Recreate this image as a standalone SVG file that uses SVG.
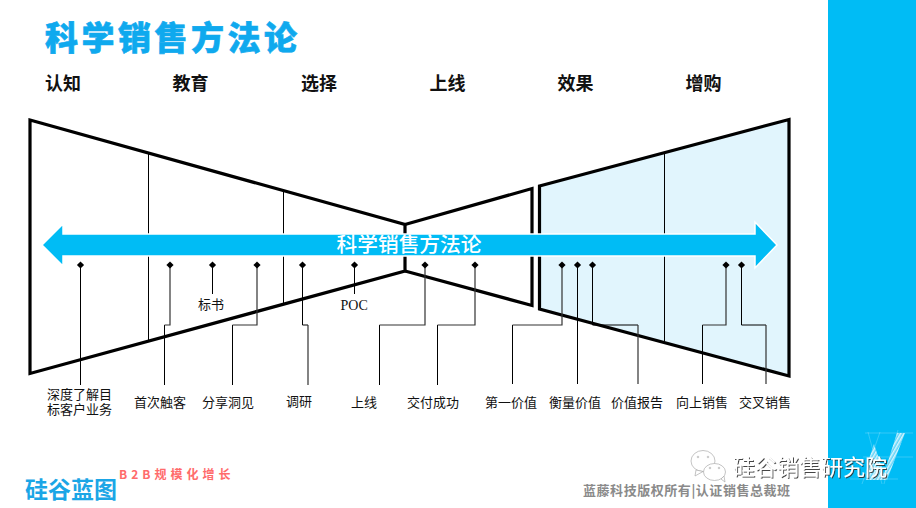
<svg xmlns="http://www.w3.org/2000/svg" width="916" height="508" viewBox="0 0 916 508">
<style>
text{font-family:"Noto Sans CJK SC","Noto Sans",sans-serif}
.hd{font-size:18px;font-weight:700;fill:#111}
.lb{font-size:13px;fill:#111}
.sh{stroke:#000;stroke-width:3.200;stroke-linejoin:miter}
.dv{fill:none;stroke:#000;stroke-width:1}
.cn{fill:none;stroke:#000;stroke-width:1}
.cg{fill:none;stroke:#333;stroke-width:1.200}
.gl{fill:none;stroke:#fff;stroke-width:.7;opacity:.3}
</style>
<defs>
<path id="d" d="M0-3.600L3.600 0L0 3.600L-3.600 0Z" fill="#000"/>
<pattern id="h" width="3" height="3" patternUnits="userSpaceOnUse" patternTransform="rotate(30)"><rect width="3" height="3" fill="#5fd3f8"/><rect width="1.500" height="3" fill="#fff" opacity=".75"/></pattern>
<filter id="s" x="-5%" y="-20%" width="110%" height="140%"><feDropShadow dx="1" dy="1" stdDeviation=".4" flood-color="#333" flood-opacity=".9"/></filter>
</defs>
<rect width="916" height="508" fill="#fff"/>
<rect id="side-panel" x="828" y="0" width="88" height="508" fill="#00bcf5"/>
<text id="title" x="45" y="50" font-size="33" font-weight="900" letter-spacing="3.500" fill="#0fa9ee" stroke="#0fa9ee" stroke-width=".6">科学销售方法论</text>
<g id="stages">
<text class="hd" x="45" y="90">认知</text>
<text class="hd" x="172.500" y="90">教育</text>
<text class="hd" x="301" y="90">选择</text>
<text class="hd" x="429.500" y="90">上线</text>
<text class="hd" x="557.500" y="90">效果</text>
<text class="hd" x="685.500" y="90">增购</text>
</g>
<g id="funnel-left"><path class="sh" d="M30 120L405 224.500V271L30 373.500Z" fill="#fff"/></g>
<g id="funnel-middle"><path class="sh" d="M405 224.500L532 188.500V305.500L405 271" fill="none"/></g>
<g id="funnel-right"><path class="sh" d="M539.500 186L789 119.500V376L539.500 309Z" fill="#e1f5fd"/></g>
<g id="dividers">
<path class="dv" d="M148.500 153V340M283.500 191V303M405.500 225V270M664.500 152V341"/>
</g>
<g id="method-arrow">
<path d="M42 245L63 224V234H755V222L777 245L755 268V256H63V266Z" fill="#00bcf5" stroke="#fff" stroke-width="1.500"/>
<text x="409" y="251.500" font-size="20.700" font-weight="500" fill="#fff" text-anchor="middle">科学销售方法论</text>
</g>
<g id="connectors">
<path class="cn" d="M80.500 265V385M164.500 325V385M212.500 265V294M232.500 325V385M302.500 265V325H308M354.500 265V294M379.500 325V385M437.500 325V385M512.500 325V384M577.500 265V384M592.500 265V325H638M702.500 325V384M741.500 265V325H766"/>
<path class="cg" d="M170 265V325H164.500M257 265V325H232.500M308 325V385M425 265V325H379.500M475 265V325H437.500M562 265V325H512.500M638 325V384M726 265V325H702.500M766 325V384"/>
<use href="#d" x="80.500" y="265"/><use href="#d" x="170" y="265"/><use href="#d" x="212.500" y="265"/><use href="#d" x="257" y="265"/><use href="#d" x="302.500" y="265"/><use href="#d" x="354.500" y="265"/><use href="#d" x="425" y="265"/><use href="#d" x="475" y="265"/><use href="#d" x="562" y="265"/><use href="#d" x="577.500" y="265"/><use href="#d" x="592.500" y="265"/><use href="#d" x="726" y="265"/><use href="#d" x="741.500" y="265"/>
</g>
<g id="node-biaoshu"><text class="lb" x="198" y="308.500">标书</text></g>
<g id="node-poc"><text x="340.500" y="309.500" font-size="14" fill="#111" style="font-family:'Liberation Serif',serif">POC</text></g>
<g id="node-shendu"><text class="lb"><tspan x="47" y="398.500">深度了解目</tspan><tspan x="47" y="414">标客户业务</tspan></text></g>
<g id="node-shouci"><text class="lb" x="134" y="407">首次触客</text></g>
<g id="node-fenxiang"><text class="lb" x="202" y="407">分享洞见</text></g>
<g id="node-diaoyan"><text class="lb" x="286" y="406">调研</text></g>
<g id="node-shangxian"><text class="lb" x="351" y="407">上线</text></g>
<g id="node-jiaofu"><text class="lb" x="407" y="407">交付成功</text></g>
<g id="node-diyi"><text class="lb" x="485" y="407">第一价值</text></g>
<g id="node-hengliang"><text class="lb" x="549" y="407">衡量价值</text></g>
<g id="node-baogao"><text class="lb" x="611" y="407">价值报告</text></g>
<g id="node-xiangshang"><text class="lb" x="676" y="407">向上销售</text></g>
<g id="node-jiaocha"><text class="lb" x="739" y="407">交叉销售</text></g>
<g id="brand">
<text x="25" y="498" font-size="23" font-weight="700" fill="#1ba6e6">硅谷蓝图</text>
<text x="119" y="479" font-size="12" font-weight="700" letter-spacing="4" fill="#ff6b6b">B2B规模化增长</text>
<text x="583" y="495" font-size="13" font-weight="700" letter-spacing=".55" fill="#8a8a8a">蓝藤科技版权所有|认证销售总裁班</text>
</g>
<g id="watermark">
<path class="gl" d="M865 433H913M863 457H913M850 479H898M868 432L882 484M880 432L862 484M898 430L884 484"/>
<path d="M897 433H905L887 480H882Z" fill="url(#h)"/>
<path d="M874 444L886 480H866L868 462Z" fill="url(#h)"/>
<g fill="#fff" stroke="#aaa" stroke-width=".7">
<ellipse cx="703" cy="461" rx="12" ry="10.500"/><path d="M696 470L695 476L703 471.500Z"/>
<ellipse cx="714.500" cy="472" rx="11" ry="8.500"/><path d="M721 479L725 482L724 476Z"/>
<circle cx="698" cy="457" r=".8"/><circle cx="708" cy="457" r=".8"/><circle cx="710" cy="468" r=".8"/><circle cx="719" cy="468" r=".8"/>
</g>
<text x="733" y="475" font-size="22" fill="#fff" filter="url(#s)">硅谷销售研究院</text>
</g>
</svg>
